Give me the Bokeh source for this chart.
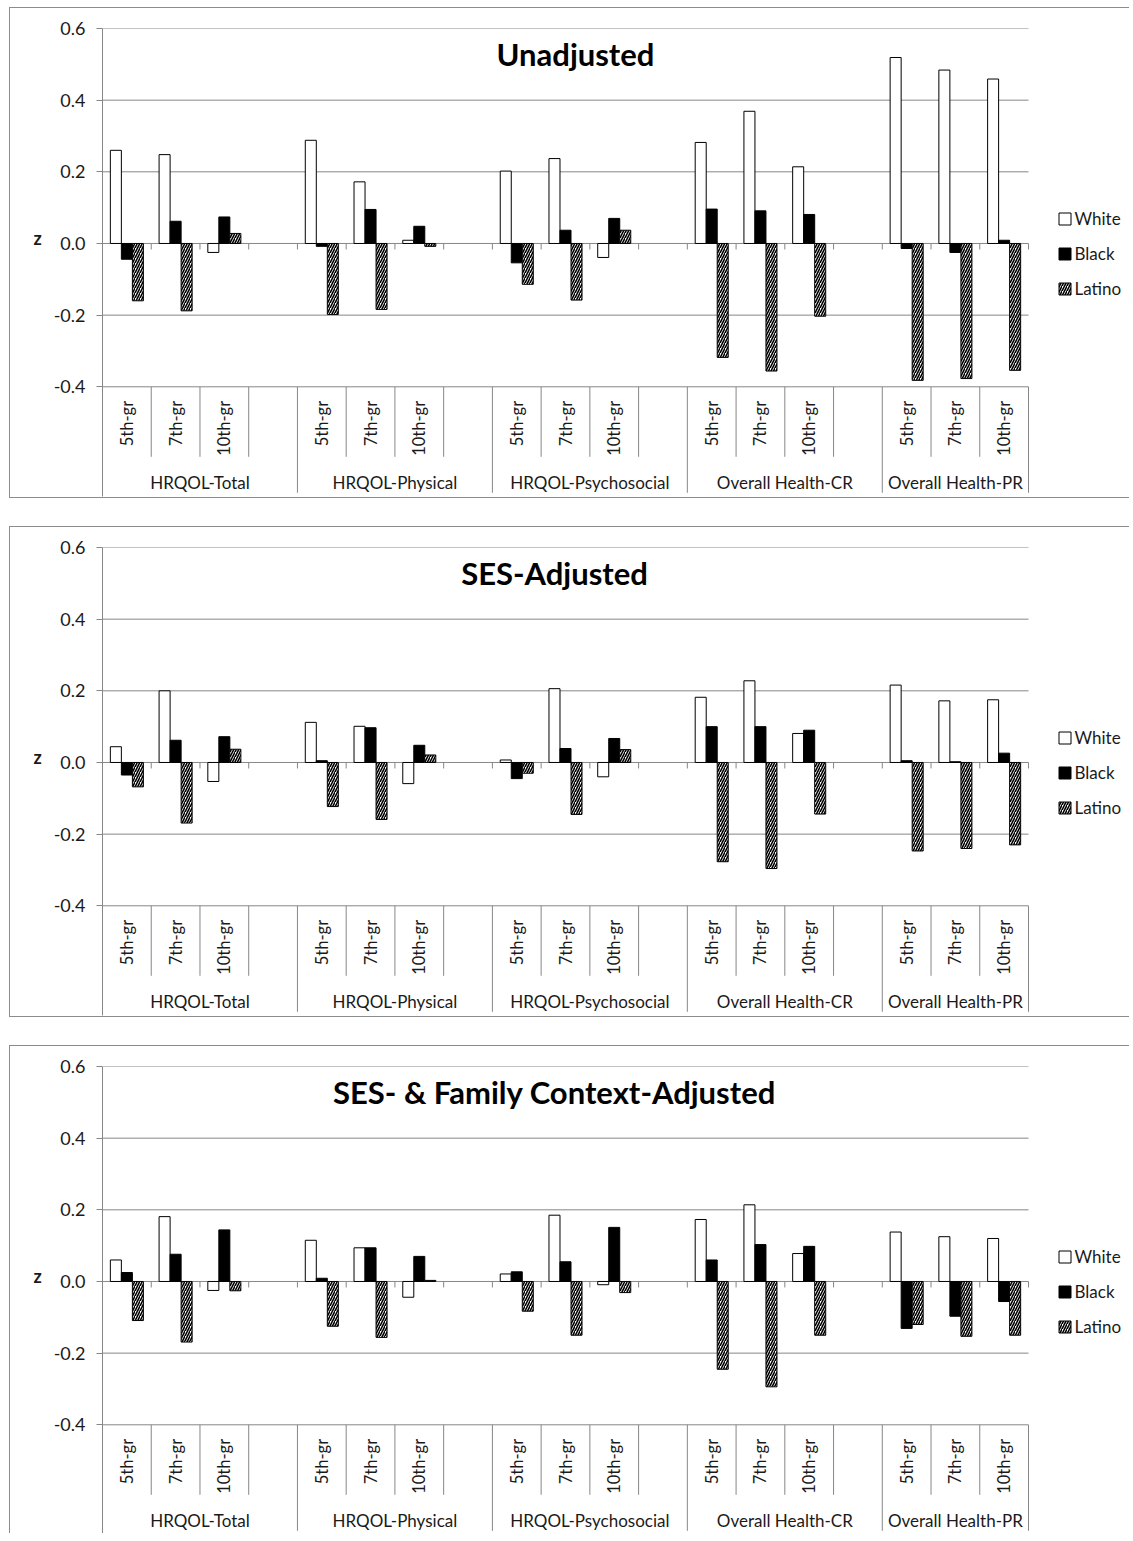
import numpy as np
from bokeh.plotting import figure
from bokeh.models import (Range1d, FixedTicker, PrintfTickFormatter, Label,
                          Legend, LegendItem, ColumnDataSource)
from bokeh.layouts import column
from bokeh.embed import file_html
from bokeh.resources import INLINE
from bokeh.core.properties import value

# ---------------- data ----------------
groups = ["HRQOL-Total", "HRQOL-Physical", "HRQOL-Psychosocial",
          "Overall Health-CR", "Overall Health-PR"]
grades = ["5th-gr", "7th-gr", "10th-gr"]
series = ["White", "Black", "Latino"]
y_ticks = [-0.4, -0.2, 0.0, 0.2, 0.4, 0.6]
titles = ["Unadjusted", "SES-Adjusted", "SES- & Family Context-Adjusted"]
y_label = "z"

# values ordered group by group, grade within group
unadj_white = [0.260, 0.248, -0.025, 0.288, 0.172, 0.009, 0.202, 0.237, -0.039,
               0.282, 0.369, 0.214, 0.519, 0.484, 0.459]
unadj_black = [-0.044, 0.062, 0.074, -0.008, 0.095, 0.048, -0.054, 0.037, 0.070,
               0.096, 0.091, 0.081, -0.014, -0.025, 0.009]
unadj_latino = [-0.160, -0.188, 0.028, -0.198, -0.184, -0.008, -0.114, -0.158, 0.037,
                -0.318, -0.356, -0.203, -0.382, -0.377, -0.354]

ses_white = [0.044, 0.200, -0.053, 0.112, 0.101, -0.059, 0.007, 0.206, -0.040,
             0.182, 0.228, 0.081, 0.216, 0.172, 0.175]
ses_black = [-0.035, 0.062, 0.072, 0.005, 0.097, 0.048, -0.045, 0.039, 0.067,
             0.100, 0.100, 0.090, 0.005, 0.002, 0.026]
ses_latino = [-0.068, -0.169, 0.037, -0.123, -0.159, 0.021, -0.030, -0.145, 0.036,
              -0.277, -0.296, -0.144, -0.247, -0.240, -0.230]

fam_white = [0.060, 0.181, -0.025, 0.115, 0.094, -0.044, 0.021, 0.185, -0.009,
             0.173, 0.214, 0.078, 0.138, 0.125, 0.120]
fam_black = [0.025, 0.076, 0.144, 0.009, 0.094, 0.070, 0.027, 0.055, 0.151,
             0.060, 0.103, 0.098, -0.131, -0.097, -0.056]
fam_latino = [-0.109, -0.169, -0.026, -0.125, -0.156, 0.003, -0.083, -0.150, -0.031,
              -0.245, -0.294, -0.150, -0.120, -0.153, -0.150]

# ---------------- styling ----------------
FONT = "Lato"
GRID = "#878787"
TXT = "#1a1a1a"
PX = 358.3          # pixels per unit on the y scale
SLOT_PX = 926 / 19  # pixels per category slot
BAR_W = 0.226       # bar width in slot units
BORDER = "1px solid #8c8c8c"
CANVAS_W = 1120
LEFT = 92


def build(title, vals, canvas_h, frame_h, title_dx, bottom_border=True):
    y_top = y_ticks[-1]
    y_bot = y_top - frame_h / PX
    n_slots = 4 * len(groups) - 1
    x_end = (CANVAS_W - LEFT) / SLOT_PX
    styles = {"border-top": BORDER, "border-left": BORDER}
    if bottom_border:
        styles["border-bottom"] = BORDER
    p = figure(width=CANVAS_W, height=canvas_h, x_range=Range1d(0, x_end),
               y_range=Range1d(y_bot, y_top), x_axis_type=None,
               output_backend="svg", toolbar_location=None,
               min_border_left=LEFT, min_border_right=0, min_border_top=20,
               min_border_bottom=canvas_h - 20 - frame_h, styles=styles)
    p.outline_line_color = None
    p.background_fill_color = "white"
    p.border_fill_color = "white"

    ax = p.yaxis[0]
    ax.ticker = FixedTicker(ticks=y_ticks)
    ax.formatter = PrintfTickFormatter(format="%.1f")
    ax.axis_line_color = GRID
    ax.major_tick_line_color = GRID
    ax.major_tick_out = 6
    ax.major_tick_in = 0
    ax.minor_tick_line_color = None
    ax.major_label_standoff = 11
    ax.major_label_text_font = FONT
    ax.major_label_text_font_size = "18px"
    ax.major_label_text_color = TXT
    # two blank lines below the label lift it beside the zero line
    ax.axis_label = y_label + "\n\u00a0\n\u00a0"
    ax.axis_label_orientation = "horizontal"
    ax.axis_label_standoff = 9
    ax.axis_label_text_font = FONT
    ax.axis_label_text_font_style = "bold"
    ax.axis_label_text_font_size = "18px"
    ax.axis_label_text_line_height = 1.1
    ax.axis_label_text_color = TXT
    p.ygrid.visible = False

    # horizontal gridlines across the category slots only
    p.segment(x0=[0] * len(y_ticks), y0=y_ticks, x1=[n_slots] * len(y_ticks),
              y1=y_ticks, line_color=GRID, line_width=1)

    centers = [4 * g + j + 0.5 for g in range(len(groups)) for j in range(len(grades))]
    looks = [dict(fill_color="white", line_color="black"),
             dict(fill_color="black", line_color="black"),
             dict(fill_color="white", line_color="black", hatch_pattern="/",
                  hatch_color="black", hatch_scale=5, hatch_weight=1.6)]
    renderers = []
    for k, (name, v) in enumerate(zip(series, vals)):
        src = ColumnDataSource(dict(x=[c + (k - 1) * BAR_W for c in centers], top=v))
        r = p.vbar(x="x", top="top", bottom=0, width=BAR_W, source=src,
                   line_width=1, **looks[k])
        renderers.append(r)

    # tick marks on the zero axis
    bounds = list(range(n_slots + 1))
    p.segment(x0=bounds, y0=0, x1=bounds, y1=-6 / PX, line_color=GRID, line_width=1)
    # category-label separators
    gbounds = [4 * g for g in range(len(groups))] + [n_slots]
    sbounds = [b for b in bounds if b not in gbounds]
    low = y_ticks[0]
    p.segment(x0=sbounds, y0=low, x1=sbounds, y1=low - 70 / PX,
              line_color=GRID, line_width=1)
    p.segment(x0=gbounds, y0=low, x1=gbounds, y1=low - 106 / PX,
              line_color=GRID, line_width=1)

    # sub-category labels (rotated)
    p.text(x=centers, y=[low - 14 / PX] * len(centers),
           text=[grades[j] for g in range(len(groups)) for j in range(len(grades))],
           angle=np.pi / 2, text_align="right", text_baseline="middle",
           text_font=value(FONT), text_font_size="16.5px", text_color=TXT)
    # group labels
    gcent = [4 * g + 2 for g in range(len(groups) - 1)] + [4 * (len(groups) - 1) + 1.5]
    p.text(x=gcent, y=[low - 96 / PX] * len(gcent), text=groups,
           text_align="center", text_baseline="middle",
           text_font=value(FONT), text_font_size="17px", text_color=TXT)

    p.add_layout(Label(x=title_dx, y=y_top - 25 / PX, x_units="screen",
                       text=title, text_align="center", text_baseline="alphabetic",
                       text_font=FONT, text_font_style="bold",
                       text_font_size="31px", text_color="black"))

    legend = Legend(items=[LegendItem(label=s, renderers=[r])
                           for s, r in zip(series, renderers)],
                    location=(954.5, frame_h - 271), orientation="vertical",
                    glyph_width=15, glyph_height=15, label_standoff=3,
                    spacing=14, padding=0, margin=0, border_line_color=None,
                    background_fill_alpha=0, label_text_font=FONT,
                    label_text_font_size="17px", label_text_color=TXT)
    p.add_layout(legend)
    return p


p1 = build(titles[0], [unadj_white, unadj_black, unadj_latino], 491, 468, 473)
p2 = build(titles[1], [ses_white, ses_black, ses_latino], 491, 468, 452)
p3 = build(titles[2], [fam_white, fam_black, fam_latino], 488, 468, 452,
           bottom_border=False)

layout = column(p1, p2, p3, spacing=28, margin=(7, 0, 0, 9))
open("out.html", "w").write(file_html(layout, INLINE))
